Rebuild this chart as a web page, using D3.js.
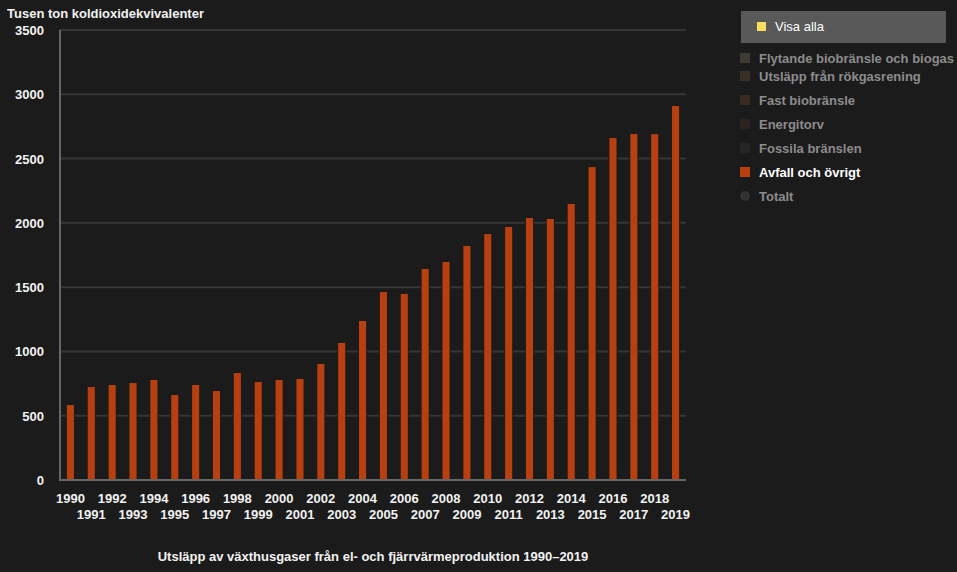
<!DOCTYPE html>
<html>
<head>
<meta charset="utf-8">
<script src="https://cdn.jsdelivr.net/npm/d3@7"></script>
<style>
  body { margin: 0; background: #1b1b1b; }
  svg { display: block; font-family: "Liberation Sans", Arial, sans-serif; font-weight: bold; }
</style>
</head>
<body>
<div id="chart"></div>
<script>
// Data
const years = d3.range(1990, 2020).map(String);
const avfall = [583, 723, 739, 754, 778, 661, 739, 692, 832, 762,
                778, 786, 902, 1066, 1237, 1462, 1447, 1641, 1696, 1820,
                1913, 1968, 2038, 2030, 2147, 2434, 2660, 2691, 2690, 2909];
const yTicks = [0, 500, 1000, 1500, 2000, 2500, 3000, 3500];
const legendNames = ["Flytande biobränsle och biogas", "Utsläpp från rökgasrening",
                     "Fast biobränsle", "Energitorv", "Fossila bränslen",
                     "Avfall och övrigt", "Totalt"];
const legendColors = ["#3d3b33", "#3b3026", "#3a2a20", "#2e2220", "#262424", "#b83f10", "#333333"];

const W = 957, H = 572;
const plotLeft = 60, plotRight = 686, plotTop = 30, plotBottom = 480;

const svg = d3.select("#chart")
    .append("svg")
    .attr("width", W)
    .attr("height", H);

svg.append("rect").attr("width", W).attr("height", H).attr("fill", "#1b1b1b");

// Scales
const x = d3.scaleBand()
    .domain(years)
    .range([plotLeft, plotRight])
    .paddingInner(0.66)
    .paddingOuter(0.33);

const y = d3.scaleLinear()
    .domain([0, 3500])
    .range([plotBottom, plotTop]);

// Gridlines
svg.append("g")
    .selectAll("line")
    .data(yTicks.slice(1))
    .enter()
    .append("line")
    .attr("x1", plotLeft)
    .attr("x2", plotRight)
    .attr("y1", d => y(d))
    .attr("y2", d => y(d))
    .attr("stroke", "#363636")
    .attr("stroke-width", 2);

// Y labels
svg.append("g")
    .selectAll("text")
    .data(yTicks)
    .enter()
    .append("text")
    .attr("x", 44)
    .attr("y", d => y(d) + 5)
    .attr("text-anchor", "end")
    .attr("fill", "#f2f2f2")
    .style("font-size", "13px")
    .text(d => d);

// Bars
svg.append("g")
    .selectAll("rect")
    .data(avfall)
    .enter()
    .append("rect")
    .attr("x", (d, i) => x(years[i]))
    .attr("y", d => y(d))
    .attr("width", x.bandwidth())
    .attr("height", d => plotBottom - y(d))
    .attr("fill", "#b83f10")
    .attr("stroke", "#1b1b1b")
    .attr("stroke-width", 2)
    .attr("paint-order", "stroke");

// Axis lines
svg.append("line")
    .attr("x1", plotLeft).attr("x2", plotLeft)
    .attr("y1", plotTop).attr("y2", plotBottom + 1)
    .attr("stroke", "#666").attr("stroke-width", 2);
svg.append("line")
    .attr("x1", plotLeft - 1).attr("x2", plotRight)
    .attr("y1", plotBottom).attr("y2", plotBottom)
    .attr("stroke", "#666").attr("stroke-width", 2);

// X labels, staggered
svg.append("g")
    .selectAll("text")
    .data(years)
    .enter()
    .append("text")
    .attr("x", d => x(d) + x.bandwidth() / 2)
    .attr("y", (d, i) => i % 2 === 0 ? 503 : 519)
    .attr("text-anchor", "middle")
    .attr("fill", "#f2f2f2")
    .style("font-size", "13px")
    .text(d => d);

// Titles
svg.append("text")
    .attr("x", 7)
    .attr("y", 18)
    .attr("fill", "#f2f2f2")
    .style("font-size", "13px")
    .text("Tusen ton koldioxidekvivalenter");

svg.append("text")
    .attr("x", 373)
    .attr("y", 561)
    .attr("text-anchor", "middle")
    .attr("fill", "#f2f2f2")
    .style("font-size", "13px")
    .text("Utsläpp av växthusgaser från el- och fjärrvärmeproduktion 1990–2019");

// Legend
const lg = svg.append("g");
lg.append("rect")
    .attr("x", 741).attr("y", 11)
    .attr("width", 205).attr("height", 32)
    .attr("fill", "#595959");
lg.append("rect")
    .attr("x", 757).attr("y", 22)
    .attr("width", 9).attr("height", 9)
    .attr("fill", "#ffdc5e");
lg.append("text")
    .attr("x", 775).attr("y", 31)
    .attr("fill", "#ffffff")
    .style("font-size", "13px")
    .style("font-weight", "normal")
    .text("Visa alla");

const legendY = [58, 76, 100, 124, 148, 172, 196];
const items = lg.selectAll("g.item")
    .data(legendNames)
    .enter()
    .append("g")
    .attr("class", "item")
    .attr("transform", (d, i) => `translate(740,${legendY[i]})`);

items.each(function(d, i) {
    const g = d3.select(this);
    if (d === "Totalt") {
        g.append("circle").attr("cx", 5).attr("cy", 0).attr("r", 5).attr("fill", legendColors[i]);
    } else {
        g.append("rect").attr("x", 0).attr("y", -5).attr("width", 10).attr("height", 10).attr("fill", legendColors[i]);
    }
    g.append("text")
        .attr("x", 19)
        .attr("y", 5)
        .attr("fill", d === "Avfall och övrigt" ? "#ffffff" : "#8c8c8c")
        .style("font-size", "13px")
        .text(d);
});
</script>
</body>
</html>
